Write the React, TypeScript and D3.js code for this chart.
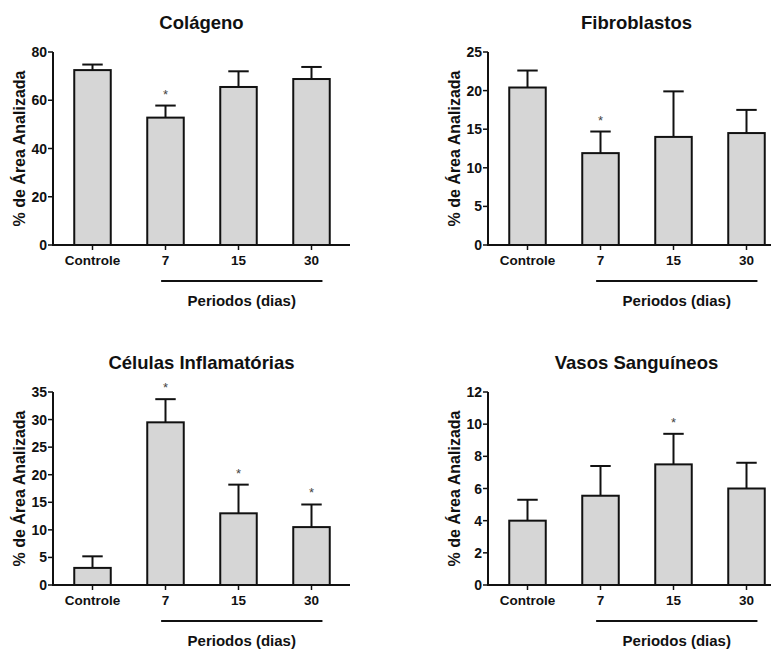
import React from "react";
import * as d3 from "d3";

const categories = ["Controle", "7", "15", "30"];

const colageno = [72.5, 52.8, 65.5, 68.8];
const colagenoErr = [2.3, 5.0, 6.5, 5.0];
const colagenoSig = [false, true, false, false];

const fibroblastos = [20.4, 11.9, 14.0, 14.5];
const fibroblastosErr = [2.2, 2.8, 5.9, 3.0];
const fibroblastosSig = [false, true, false, false];

const celulas = [3.1, 29.5, 13.0, 10.5];
const celulasErr = [2.1, 4.2, 5.2, 4.1];
const celulasSig = [false, true, true, true];

const vasos = [4.0, 5.55, 7.5, 6.0];
const vasosErr = [1.3, 1.85, 1.9, 1.6];
const vasosSig = [false, false, true, false];

const yMaxes = [80, 25, 35, 12];
const yTicks = [
  [0, 20, 40, 60, 80],
  [0, 5, 10, 15, 20, 25],
  [0, 5, 10, 15, 20, 25, 30, 35],
  [0, 2, 4, 6, 8, 10, 12],
];
const titles = ["Colágeno", "Fibroblastos", "Células Inflamatórias", "Vasos Sanguíneos"];
const yLabel = "% de Área Analizada";
const xLabel = "Periodos (dias)";

const width = 771;
const height = 649;
const font = "'Liberation Sans', Arial, Helvetica, sans-serif";

const plotW = 297;
const plotH = 193;

type PanelProps = {
  left: number;
  top: number;
  title: string;
  values: number[];
  errs: number[];
  sig: boolean[];
  yMax: number;
  ticks: number[];
};

const Panel = ({ left, top, title, values, errs, sig, yMax, ticks }: PanelProps) => {
  const x = d3.scaleBand().domain(categories).range([left + 3, left + 295]).paddingInner(0.5).paddingOuter(0.25);
  const y = d3.scaleLinear().domain([0, yMax]).range([top + plotH, top]);
  const bw = x.bandwidth();
  const base = y(0);
  const capW = bw * 0.56;

  return (
    <g>
      <text x={left + plotW / 2} y={top - 23} textAnchor="middle" fontSize={18.5} fontWeight="bold" fill="#111">
        {title}
      </text>

      {/* bars */}
      {categories.map((c, i) => {
        const cx = x(c)! + bw / 2;
        const eTop = y(values[i] + errs[i]);
        return (
          <g key={c}>
            <line x1={cx} x2={cx} y1={y(values[i])} y2={eTop} stroke="#111" strokeWidth={2} />
            <line x1={cx - capW / 2} x2={cx + capW / 2} y1={eTop} y2={eTop} stroke="#111" strokeWidth={2} />
            <rect x={x(c)} y={y(values[i])} width={bw} height={base - y(values[i])} fill="#d6d6d6" stroke="#111" strokeWidth={2} />
            {sig[i] && (
              <text x={cx} y={eTop - 7} textAnchor="middle" fontSize={13} fill="#444">*</text>
            )}
          </g>
        );
      })}

      {/* y axis */}
      <line x1={left} x2={left} y1={y(yMax)} y2={base} stroke="#111" strokeWidth={2} />
      {ticks.map((t) => (
        <g key={t}>
          <line x1={left - 5} x2={left} y1={y(t)} y2={y(t)} stroke="#111" strokeWidth={1.5} />
          <text x={left - 6} y={y(t)} dy="0.36em" textAnchor="end" fontSize={14} fontWeight="bold" fill="#111">
            {t}
          </text>
        </g>
      ))}
      <text
        transform={`translate(${left - 28},${top + plotH / 2}) rotate(-90)`}
        textAnchor="middle"
        fontSize={16}
        fontWeight="bold"
        fill="#111"
      >
        {yLabel}
      </text>

      {/* x axis */}
      <line x1={left - 1} x2={left + plotW} y1={base} y2={base} stroke="#111" strokeWidth={2} />
      {categories.map((c) => {
        const cx = x(c)! + bw / 2;
        return (
          <g key={c}>
            <line x1={cx} x2={cx} y1={base} y2={base + 5} stroke="#111" strokeWidth={1.5} />
            <text x={cx} y={base + 20} textAnchor="middle" fontSize={13.5} fontWeight="bold" fill="#111">
              {c}
            </text>
          </g>
        );
      })}
      <line
        x1={x("7")! + bw * 0.38}
        x2={x("30")! + bw * 0.8}
        y1={base + 36}
        y2={base + 36}
        stroke="#111"
        strokeWidth={2}
      />
      <text x={(x("7")! + x("30")! + bw * 1.18) / 2} y={base + 61} textAnchor="middle" fontSize={15} fontWeight="bold" fill="#111">
        {xLabel}
      </text>
    </g>
  );
};

export default function App() {
  const panels = [
    { left: 53, top: 52, values: colageno, errs: colagenoErr, sig: colagenoSig },
    { left: 488, top: 52, values: fibroblastos, errs: fibroblastosErr, sig: fibroblastosSig },
    { left: 53, top: 392, values: celulas, errs: celulasErr, sig: celulasSig },
    { left: 488, top: 392, values: vasos, errs: vasosErr, sig: vasosSig },
  ];
  return (
    <svg
      width={width}
      height={height}
      style={{ position: "absolute", left: 0, top: 0, background: "#fff" }}
      fontFamily={font}
    >
      <rect width={width} height={height} fill="#fff" />
      {panels.map((p, i) => (
        <Panel
          key={i}
          left={p.left}
          top={p.top}
          title={titles[i]}
          values={p.values}
          errs={p.errs}
          sig={p.sig}
          yMax={yMaxes[i]}
          ticks={yTicks[i]}
        />
      ))}
    </svg>
  );
}
